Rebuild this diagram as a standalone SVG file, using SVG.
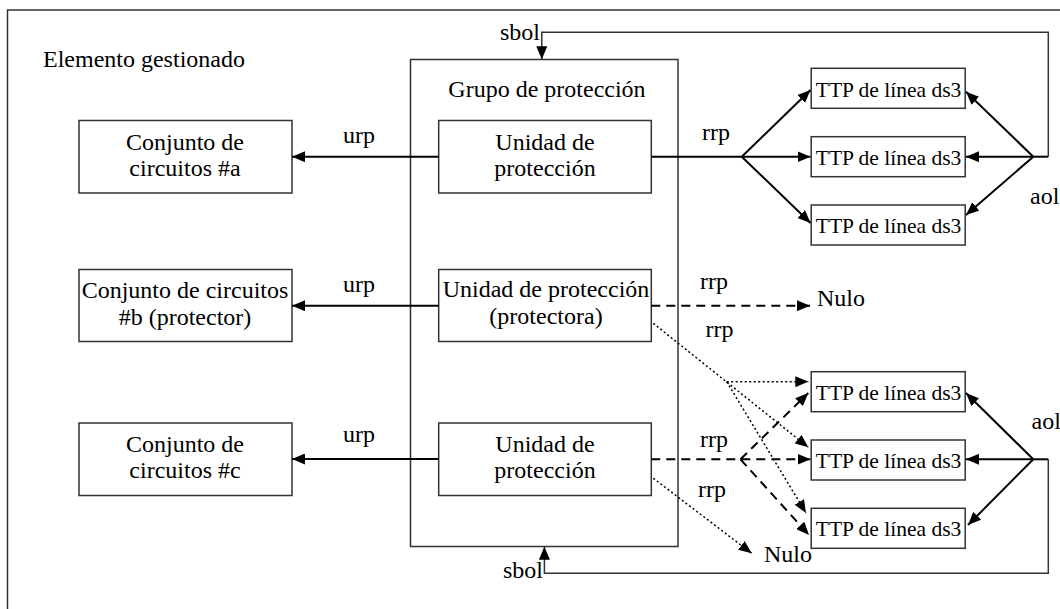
<svg xmlns="http://www.w3.org/2000/svg" width="1060" height="609" viewBox="0 0 1060 609">
  <style>
    .bg { fill: #ffffff; }
    .frame { fill: none; stroke: #333333; stroke-width: 1.5; }
    .box { fill: #ffffff; stroke: #333333; stroke-width: 1.5; }
    .t { font-family: "Liberation Serif", "Times New Roman", serif; font-size: 24px; fill: #000000; }
    .tm { text-anchor: middle; }
    .ttp { font-size: 21.5px; }
    .solid { fill: none; stroke: #000000; stroke-width: 2; }
    .thin { fill: none; stroke: #333333; stroke-width: 1.5; }
    .dash { fill: none; stroke: #000000; stroke-width: 2; stroke-dasharray: 9 6; }
    .dot { fill: none; stroke: #000000; stroke-width: 1.5; stroke-dasharray: 2 2.5; }
  </style>
  <defs>
    <marker id="arr" markerUnits="userSpaceOnUse" markerWidth="13" markerHeight="11" refX="13" refY="5.5" orient="auto">
      <path d="M0,0 L13,5.5 L0,11 z" fill="#000000"/>
    </marker>
  </defs>

  <rect class="bg" x="0" y="0" width="1060" height="609"/>

  <g id="managed-element">
    <rect class="frame" x="7.5" y="10" width="1070" height="620"/>
    <text class="t" x="43" y="67">Elemento gestionado</text>
  </g>

  <g id="protection-group">
    <rect class="box" x="410.5" y="59.5" width="267.5" height="487"/>
    <text class="t tm" x="547" y="97">Grupo de protección</text>
  </g>

  <g id="circuit-a">
    <rect class="box" x="79" y="120.5" width="213" height="72.5"/>
    <text class="t tm" x="185" y="150">Conjunto de</text>
    <text class="t tm" x="185" y="176">circuitos #a</text>
  </g>
  <g id="circuit-b">
    <rect class="box" x="79" y="269.5" width="213" height="72"/>
    <text class="t tm" x="185" y="298">Conjunto de circuitos</text>
    <text class="t tm" x="185" y="325">#b (protector)</text>
  </g>
  <g id="circuit-c">
    <rect class="box" x="79" y="423" width="213" height="72.5"/>
    <text class="t tm" x="185" y="452">Conjunto de</text>
    <text class="t tm" x="185" y="478">circuitos #c</text>
  </g>

  <g id="unit-a">
    <rect class="box" x="438.7" y="120.5" width="212.6" height="72.5"/>
    <text class="t tm" x="545" y="150">Unidad de</text>
    <text class="t tm" x="545" y="176">protección</text>
  </g>
  <g id="unit-b">
    <rect class="box" x="438.7" y="269.5" width="212.6" height="72"/>
    <text class="t tm" x="546" y="297">Unidad de protección</text>
    <text class="t tm" x="546" y="324">(protectora)</text>
  </g>
  <g id="unit-c">
    <rect class="box" x="438.7" y="423" width="212.6" height="72.5"/>
    <text class="t tm" x="545" y="452">Unidad de</text>
    <text class="t tm" x="545" y="478">protección</text>
  </g>

  <g id="ttp-1">
    <rect class="box" x="811.2" y="68.3" width="154" height="40"/>
    <text class="t ttp tm" x="888.5" y="96.5">TTP de línea ds3</text>
  </g>
  <g id="ttp-2">
    <rect class="box" x="811.2" y="136.7" width="154" height="40"/>
    <text class="t ttp tm" x="888.5" y="165">TTP de línea ds3</text>
  </g>
  <g id="ttp-3">
    <rect class="box" x="811.2" y="205" width="154" height="40"/>
    <text class="t ttp tm" x="888.5" y="233.3">TTP de línea ds3</text>
  </g>
  <g id="ttp-4">
    <rect class="box" x="811.2" y="371.7" width="154" height="40"/>
    <text class="t ttp tm" x="888.5" y="399.5">TTP de línea ds3</text>
  </g>
  <g id="ttp-5">
    <rect class="box" x="811.2" y="440" width="154" height="40"/>
    <text class="t ttp tm" x="888.5" y="467.5">TTP de línea ds3</text>
  </g>
  <g id="ttp-6">
    <rect class="box" x="811.2" y="508.3" width="154" height="40"/>
    <text class="t ttp tm" x="888.5" y="536">TTP de línea ds3</text>
  </g>

  <g id="null-1">
    <text class="t" x="817" y="306">Nulo</text>
  </g>
  <g id="null-2">
    <text class="t" x="764" y="562">Nulo</text>
  </g>

  <g id="connectors">
    <line class="solid" x1="438.7" y1="156.7" x2="292" y2="156.7" marker-end="url(#arr)"/>
    <line class="solid" x1="438.7" y1="305.7" x2="292" y2="305.7" marker-end="url(#arr)"/>
    <line class="solid" x1="438.7" y1="459" x2="292" y2="459" marker-end="url(#arr)"/>
    <text class="t" x="343" y="143">urp</text>
    <text class="t" x="343" y="292">urp</text>
    <text class="t" x="343" y="442">urp</text>

    <line class="solid" x1="651.3" y1="156.7" x2="741.8" y2="156.7"/>
    <line class="solid" x1="741.8" y1="156.7" x2="810.5" y2="90" marker-end="url(#arr)"/>
    <line class="solid" x1="741.8" y1="156.7" x2="810.5" y2="156.7" marker-end="url(#arr)"/>
    <line class="solid" x1="741.8" y1="156.7" x2="810.5" y2="223" marker-end="url(#arr)"/>
    <text class="t" x="702" y="140">rrp</text>

    <line class="solid" x1="1048.3" y1="156.7" x2="1033.3" y2="156.7"/>
    <line class="solid" x1="1033.3" y1="156.7" x2="966" y2="91.7" marker-end="url(#arr)"/>
    <line class="solid" x1="1033.3" y1="156.7" x2="966" y2="156.7" marker-end="url(#arr)"/>
    <line class="solid" x1="1033.3" y1="156.7" x2="966" y2="215" marker-end="url(#arr)"/>
    <text class="t" x="1030" y="204">aol</text>

    <polyline class="thin" points="1048.3,156.7 1048.3,32.3 541.8,32.3 541.8,59.3" marker-end="url(#arr)"/>
    <text class="t" x="500" y="40">sbol</text>

    <line class="dash" x1="651.3" y1="305.7" x2="810" y2="305.7" marker-end="url(#arr)"/>
    <text class="t" x="700" y="289">rrp</text>
    <text class="t" x="705.5" y="337">rrp</text>
    <line class="dot" x1="653.3" y1="323.3" x2="808.3" y2="447.3" marker-end="url(#arr)"/>
    <line class="dot" x1="726.7" y1="381.7" x2="808.3" y2="381.7" marker-end="url(#arr)"/>
    <line class="dot" x1="726.7" y1="381.7" x2="806" y2="513" marker-end="url(#arr)"/>

    <line class="dash" x1="651.3" y1="459.3" x2="810.5" y2="459.3" marker-end="url(#arr)"/>
    <line class="dash" x1="740.5" y1="459.3" x2="808.3" y2="393" marker-end="url(#arr)"/>
    <line class="dash" x1="740.5" y1="459.3" x2="809" y2="535" marker-end="url(#arr)"/>
    <text class="t" x="700" y="447">rrp</text>
    <text class="t" x="698" y="497">rrp</text>
    <line class="dot" x1="653.3" y1="478.3" x2="751.7" y2="553.3" marker-end="url(#arr)"/>

    <line class="solid" x1="1048.3" y1="459.3" x2="1033.3" y2="459.3"/>
    <line class="solid" x1="1033.3" y1="459.3" x2="966" y2="393" marker-end="url(#arr)"/>
    <line class="solid" x1="1033.3" y1="459.3" x2="966" y2="459.3" marker-end="url(#arr)"/>
    <line class="solid" x1="1033.3" y1="459.3" x2="968" y2="525" marker-end="url(#arr)"/>
    <text class="t" x="1031.5" y="428.5">aol</text>

    <polyline class="thin" points="1048.3,459.3 1048.3,573.3 544.4,573.3 544.4,546.7" marker-end="url(#arr)"/>
    <text class="t" x="503" y="578">sbol</text>
  </g>
</svg>
